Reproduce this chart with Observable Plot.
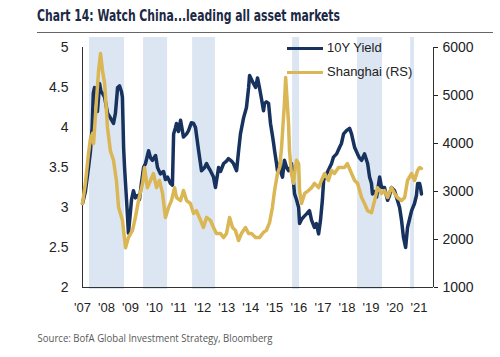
<!DOCTYPE html>
<html><head><meta charset="utf-8">
<script src="https://cdn.jsdelivr.net/npm/d3@7"></script>
<script src="https://cdn.jsdelivr.net/npm/@observablehq/plot@0.6"></script>
<style>
body{margin:0;background:#fff;}
#wrap{position:relative;width:500px;height:357px;overflow:hidden;font-family:"Liberation Sans",Arial,sans-serif;}
svg{display:block;}
.legtxt{position:absolute;left:327px;font-size:13px;line-height:16px;color:#222;white-space:nowrap;}
.legline{position:absolute;left:287px;width:36px;height:3.5px;}
</style></head>
<body>
<div id="wrap">
<svg width="500" height="36"><text x="37" y="21" font-weight="bold" font-size="15" textLength="303" lengthAdjust="spacingAndGlyphs" fill="#1c2944" font-family="Liberation Sans Narrow, DejaVu Sans Condensed, sans-serif">Chart 14: Watch China...leading all asset markets</text><line x1="37" x2="493" y1="32.5" y2="32.5" stroke="#666" stroke-width="1"/></svg>
<div id="chart"></div>
<svg width="500" height="36"><text x="37.5" y="21" font-size="11" textLength="235" lengthAdjust="spacingAndGlyphs" fill="#595959" font-family="Open Sans, sans-serif">Source: BofA Global Investment Strategy, Bloomberg</text></svg>
<div class="legline" id="l1" style="top:46.5px;"></div><div class="legtxt" style="top:40px;">10Y Yield</div>
<div class="legline" id="l2" style="top:70.5px;"></div><div class="legtxt" style="top:64px;">Shanghai (RS)</div>
</div>
<script>
const NAVY = "#17325e", GOLD = "#dab654", BAND = "#dce6f2";

const yieldDates = [2007.00,2007.12,2007.25,2007.33,2007.40,2007.45,2007.50,2007.58,2007.62,2007.71,2007.77,2007.83,2007.92,2008.04,2008.16,2008.29,2008.37,2008.46,2008.54,2008.62,2008.66,2008.71,2008.75,2008.79,2008.85,2008.91,2008.98,2009.04,2009.12,2009.20,2009.29,2009.37,2009.45,2009.54,2009.62,2009.75,2009.83,2009.91,2010.04,2010.12,2010.24,2010.37,2010.45,2010.54,2010.66,2010.74,2010.79,2010.87,2010.91,2010.99,2011.08,2011.20,2011.33,2011.41,2011.53,2011.62,2011.70,2011.83,2011.95,2012.08,2012.16,2012.24,2012.32,2012.45,2012.53,2012.66,2012.74,2012.87,2012.99,2013.07,2013.20,2013.28,2013.41,2013.49,2013.57,2013.70,2013.82,2013.91,2013.95,2014.03,2014.11,2014.20,2014.28,2014.36,2014.45,2014.53,2014.57,2014.65,2014.74,2014.82,2014.90,2014.95,2014.99,2015.07,2015.11,2015.20,2015.24,2015.32,2015.40,2015.49,2015.57,2015.65,2015.69,2015.78,2015.82,2015.90,2015.99,2016.03,2016.11,2016.19,2016.32,2016.44,2016.53,2016.65,2016.73,2016.82,2016.90,2016.98,2017.03,2017.15,2017.28,2017.36,2017.44,2017.57,2017.69,2017.77,2017.86,2017.98,2018.11,2018.19,2018.32,2018.44,2018.52,2018.61,2018.73,2018.86,2018.94,2019.02,2019.06,2019.15,2019.23,2019.31,2019.36,2019.44,2019.56,2019.69,2019.77,2019.85,2019.98,2020.10,2020.19,2020.27,2020.35,2020.44,2020.52,2020.60,2020.69,2020.81,2020.89,2020.94,2021.02,2021.06,2021.10];
const yieldValues = [3.05,3.2,3.5,3.7,4.0,4.43,4.5,4.3,4.2,4.55,4.45,4.43,4.38,4.18,4.12,4.05,4.18,4.5,4.52,4.45,4.38,3.75,3.5,3.3,3.0,2.68,2.9,3.1,3.21,3.12,3.15,3.1,3.3,3.5,3.55,3.71,3.62,3.59,3.65,3.5,3.42,3.45,3.35,3.38,3.3,3.28,3.92,4.0,4.05,3.95,4.09,3.88,3.92,3.96,4.06,4.05,4.0,3.71,3.46,3.5,3.55,3.5,3.46,3.38,3.25,3.5,3.45,3.55,3.58,3.61,3.58,3.55,3.46,3.7,3.92,4.12,4.25,4.5,4.65,4.6,4.55,4.5,4.62,4.5,4.35,4.21,4.3,4.32,4.3,4.05,3.9,3.8,3.71,3.55,3.46,3.55,3.45,3.38,3.59,3.5,3.46,3.5,3.55,3.3,3.17,3.1,3.0,2.8,2.85,2.88,2.92,2.96,2.84,2.75,2.8,2.67,2.84,3.1,3.34,3.42,3.5,3.55,3.63,3.67,3.75,3.8,3.92,3.96,3.99,3.92,3.75,3.67,3.62,3.59,3.67,3.55,3.38,3.3,3.17,3.2,3.13,3.28,3.38,3.25,3.25,3.09,3.15,3.25,3.21,3.09,3.0,2.84,2.63,2.5,2.75,2.85,2.96,3.05,3.15,3.3,3.3,3.25,3.17];

const shanghaiDates = [2007.00,2007.12,2007.25,2007.33,2007.42,2007.46,2007.58,2007.67,2007.75,2007.83,2007.92,2007.96,2008.04,2008.16,2008.29,2008.41,2008.50,2008.66,2008.79,2008.91,2009.08,2009.20,2009.33,2009.50,2009.58,2009.70,2009.83,2009.95,2010.08,2010.20,2010.33,2010.45,2010.58,2010.70,2010.83,2010.91,2011.08,2011.20,2011.33,2011.49,2011.62,2011.74,2011.91,2012.03,2012.16,2012.32,2012.45,2012.57,2012.74,2012.87,2012.99,2013.12,2013.24,2013.36,2013.49,2013.61,2013.78,2013.91,2014.03,2014.20,2014.36,2014.53,2014.65,2014.78,2014.90,2014.99,2015.11,2015.20,2015.28,2015.36,2015.40,2015.45,2015.53,2015.57,2015.61,2015.69,2015.78,2015.82,2015.90,2015.99,2016.03,2016.11,2016.24,2016.40,2016.53,2016.65,2016.82,2016.94,2017.07,2017.23,2017.36,2017.48,2017.65,2017.77,2017.90,2018.02,2018.19,2018.32,2018.44,2018.61,2018.73,2018.86,2019.02,2019.15,2019.27,2019.44,2019.56,2019.69,2019.85,2019.98,2020.10,2020.27,2020.40,2020.52,2020.69,2020.81,2020.94,2021.02,2021.10];
const shanghaiValues = [2750,3170,3790,4100,4210,4000,4900,5520,5875,5520,5250,4960,4330,3850,3650,3230,2670,2400,1830,2040,2190,2460,2810,3170,3500,3080,3230,3375,3080,3230,2960,2460,2670,2810,3080,2875,2810,3020,2810,2750,2540,2600,2400,2250,2460,2400,2250,2125,2125,2040,2125,2460,2250,2190,1980,2125,2250,2125,2125,2040,2040,2150,2190,2350,2670,3020,3375,3500,3920,4540,4830,5375,4750,4420,3850,3375,3170,3375,3650,3580,3020,2750,2960,3020,3080,3170,3080,3230,3375,3230,3440,3375,3500,3500,3500,3580,3375,3230,3170,2875,2750,2600,2560,2810,3080,2960,3020,2875,3080,2960,2875,2810,2875,3230,3375,3230,3440,3500,3480];

const bandStarts = [2007.29, 2009.54, 2011.58, 2015.74, 2018.44, 2020.65];
const bandEnds   = [2008.75, 2010.54, 2012.53, 2016.03, 2019.48, 2020.81];

const leftTicks = [2, 2.5, 3, 3.5, 4, 4.5, 5];
const rightTicks = [1000, 2000, 3000, 4000, 5000, 6000];
const yearTicks = [2007,2008,2009,2010,2011,2012,2013,2014,2015,2016,2017,2018,2019,2020,2021];
const xDomain = [2007, 2021.6];
const leftDomain = [2, 5];
const rightDomain = [1000, 6000];

// map right-axis (Shanghai) values onto the left-axis scale
const toLeft = s => leftDomain[0] + (s - rightDomain[0]) * (leftDomain[1] - leftDomain[0]) / (rightDomain[1] - rightDomain[0]);
const fromLeft = v => Math.round(rightDomain[0] + (v - leftDomain[0]) * (rightDomain[1] - rightDomain[0]) / (leftDomain[1] - leftDomain[0]));

const yieldData = yieldDates.map((d, i) => ({date: d, value: yieldValues[i]}));
const shanghaiData = shanghaiDates.map((d, i) => ({date: d, value: shanghaiValues[i]}));
const bands = bandStarts.map((s, i) => ({start: s, end: bandEnds[i]}));

document.getElementById("l1").style.background = NAVY;
document.getElementById("l2").style.background = GOLD;

const chart = Plot.plot({
  width: 500, height: 285,
  marginTop: 1, marginBottom: 32, marginLeft: 82, marginRight: 67,
  style: {fontFamily: "Liberation Sans, Arial, sans-serif", fontSize: "14px", color: "#222", background: "#fff"},
  x: {domain: xDomain, label: null},
  y: {domain: leftDomain, range: [251, 11], label: null},
  marks: [
    Plot.rect(bands, {x1: "start", x2: "end", fill: BAND}),
    Plot.ruleX([xDomain[0]], {y1: leftDomain[0], y2: leftDomain[1], stroke: "#333", strokeWidth: 1}),
    Plot.ruleX([xDomain[1]], {y1: leftDomain[0], y2: leftDomain[1], stroke: "#333", strokeWidth: 1}),
    Plot.ruleY([leftDomain[0]], {x1: xDomain[0], x2: xDomain[1], stroke: "#333", strokeWidth: 1}),
    Plot.lineY(yieldData, {x: "date", y: "value", stroke: NAVY, strokeWidth: 3.5, strokeLinejoin: "round"}),
    Plot.lineY(shanghaiData, {x: "date", y: d => toLeft(d.value), stroke: GOLD, strokeWidth: 3.5, strokeLinejoin: "round"}),
    Plot.axisY({anchor: "left", label: null, ticks: leftTicks, tickFormat: d => String(d), tickSize: 0, tickPadding: 14, fontSize: 14}),
    Plot.axisY({anchor: "right", label: null, ticks: rightTicks.map(toLeft), tickFormat: d => String(fromLeft(d)), tickSize: 4, tickPadding: 5, fontSize: 14}),
    Plot.axisX({label: null, ticks: yearTicks, tickFormat: d => "'" + String(d).slice(2), tickSize: 0, tickPadding: 13, fontSize: 13})
  ]
});
document.getElementById("chart").appendChild(chart);
</script>
</body></html>
